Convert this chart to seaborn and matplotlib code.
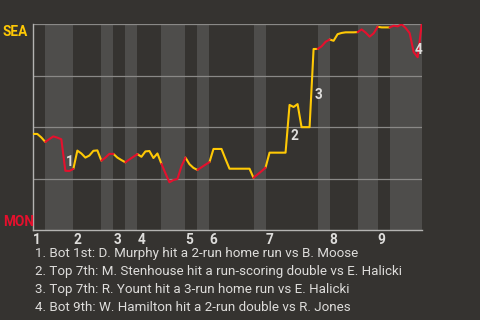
import matplotlib
matplotlib.use("Agg")
import numpy as np
import pandas as pd
import seaborn as sns
import matplotlib.pyplot as plt
from matplotlib import transforms

# Seattle win probability after each play (0 = Montreal wins, 1 = Seattle wins)
win_prob = [
    0.467, 0.467, 0.450, 0.428, 0.442, 0.455, 0.449, 0.441, 0.288, 0.287,
    0.297, 0.386, 0.372, 0.352, 0.362, 0.385, 0.387, 0.337, 0.352, 0.370,
    0.370, 0.352, 0.340, 0.329, 0.343, 0.356, 0.369, 0.356, 0.382, 0.384,
    0.350, 0.372, 0.322, 0.276, 0.232, 0.243, 0.248, 0.310, 0.352, 0.320,
    0.302, 0.292, 0.305, 0.318, 0.330, 0.394, 0.394, 0.394, 0.345, 0.298,
    0.298, 0.298, 0.298, 0.298, 0.298, 0.254, 0.270, 0.286, 0.303, 0.376,
    0.376, 0.376, 0.376, 0.376, 0.608, 0.598, 0.612, 0.500, 0.500, 0.500,
    0.880, 0.880, 0.893, 0.915, 0.926, 0.920, 0.952, 0.958, 0.961, 0.961,
    0.961, 0.962, 0.975, 0.960, 0.940, 0.956, 0.988, 0.985, 0.985, 0.985,
    0.993, 0.990, 1.000, 0.982, 0.957, 0.865, 0.840, 1.000,
]

# Play index where each half-inning begins (top 1st, bottom 1st, ...), plus the final play
half_starts = [0, 3, 10, 17, 20, 23, 26, 32, 38, 41, 44, 55, 58, 71, 74, 81, 86, 89, 97]
inning_labels = ["1", "2", "3", "4", "5", "6", "7", "8", "9"]

# Plays that swung the game most (index of the play's result)
key_plays = [8, 64, 70, 95]
play_notes = [
    "1. Bot 1st: D. Murphy hit a 2-run home run vs B. Moose",
    "2. Top 7th: M. Stenhouse hit a run-scoring double vs E. Halicki",
    "3. Top 7th: R. Yount hit a 3-run home run vs E. Halicki",
    "4. Bot 9th: W. Hamilton hit a 2-run double vs R. Jones",
]

team_colors = {"SEA": "#FFC905", "MON": "#E5102D"}
bg = "#353330"
band = "#4e4d4b"
grid = "#8a8987"
text_col = "#dedddb"

sns.set_theme(style="dark")
plt.rcParams["font.family"] = ["Roboto", "DejaVu Sans"]

# one row per play per half-inning, sharing the boundary plays so segments join
rows = []
for h in range(len(half_starts) - 1):
    s, e = half_starts[h], half_starts[h + 1]
    batting = "SEA" if h % 2 == 0 else "MON"
    for i in range(s, e + 1):
        rows.append({"play": i, "sea_wp": win_prob[i], "half": h, "batting": batting})
df = pd.DataFrame(rows)

fig = plt.figure(figsize=(4.8, 3.2), dpi=100, facecolor=bg)
ax = fig.add_axes([0.0694, 0.28125, 0.8091, 0.6428])
ax.set_facecolor(bg)

# shade the bottom halves of each inning
for h in range(1, len(half_starts) - 1, 2):
    ax.axvspan(half_starts[h], half_starts[h + 1], color=band, lw=0, zorder=0)

ax.set_yticks([0.25, 0.5, 0.75, 1.0])
ax.yaxis.grid(True, color=grid, lw=0.9)
ax.xaxis.grid(False)
ax.set_axisbelow(True)

sns.lineplot(data=df, x="play", y="sea_wp", hue="batting", units="half",
             estimator=None, palette=team_colors, lw=1.5, legend=False,
             ax=ax, zorder=3)

ax.set_xlim(half_starts[0], half_starts[-1])
ax.set_ylim(0, 1)
ax.set_xlabel("")
ax.set_ylabel("")
ax.set_yticklabels([])
ax.tick_params(axis="y", length=0)

tops = half_starts[0:-1:2]
ax.set_xticks(tops)
ax.set_xticklabels(inning_labels, fontsize=9.8, fontweight="bold", color=text_col)
for lab in ax.get_xticklabels():
    lab.set_horizontalalignment("left")
ax.tick_params(axis="x", length=0, pad=2.5)

for side in ["top", "right"]:
    ax.spines[side].set_visible(False)
for side in ["left", "bottom"]:
    ax.spines[side].set_color("#b4b3b1")
    ax.spines[side].set_linewidth(1.0)

# team names at the ends of the probability scale
tr = transforms.blended_transform_factory(fig.transFigure, ax.transData)
ax.text(0.006, 0.943, "SEA", transform=tr, color=team_colors["SEA"],
        fontsize=9.8, fontweight="bold", ha="left", va="baseline")
ax.text(0.006, 0.019, "MON", transform=tr, color=team_colors["MON"],
        fontsize=9.8, fontweight="bold", ha="left", va="baseline")

# numbered markers beside the big swings
for n, k in enumerate(key_plays, 1):
    mid = (win_prob[k - 1] + win_prob[k]) / 2
    ax.text(k + 0.25, mid, str(n), ha="left", va="top", color=text_col,
            fontsize=9.8, fontweight="bold", zorder=4)

# play descriptions
for j, note in enumerate(play_notes):
    fig.text(0.073, 1 - (254 + 17.7 * j) / 320, note, color=text_col,
             fontsize=9.6, ha="left", va="center")

fig.savefig("out.png", dpi=100, facecolor=bg)
